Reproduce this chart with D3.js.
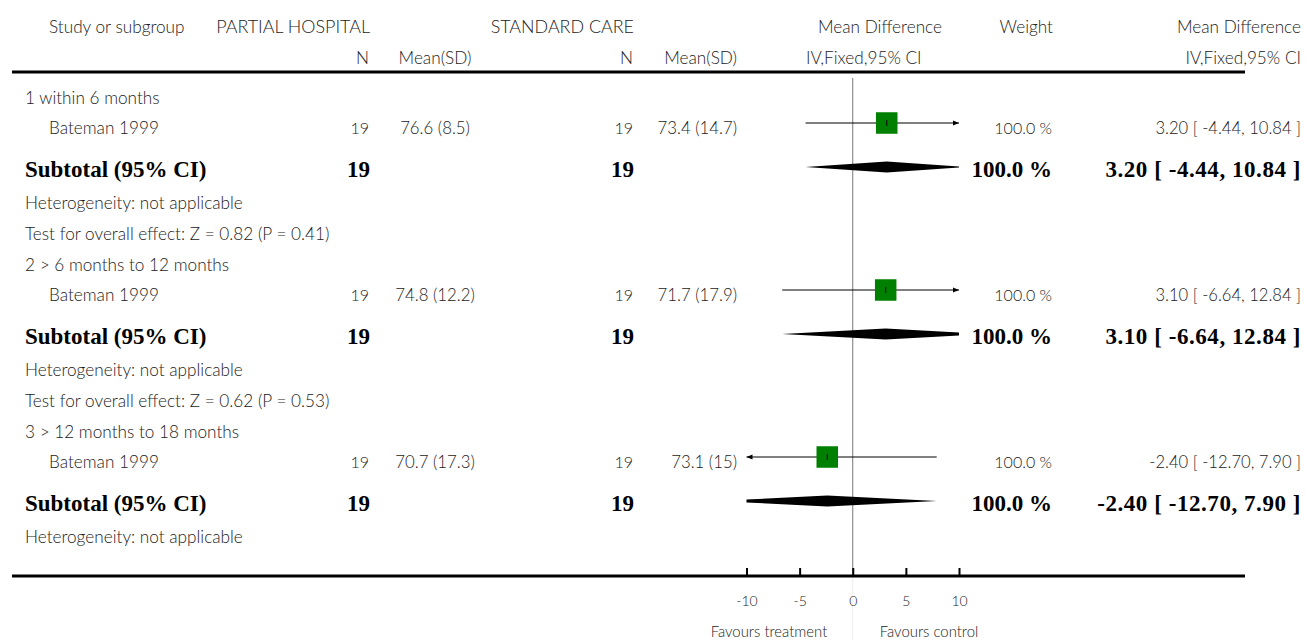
<!DOCTYPE html>
<html>
<head>
<meta charset="utf-8">
<script src="https://cdn.jsdelivr.net/npm/d3@7/dist/d3.min.js"></script>
<style>
  html, body { margin: 0; padding: 0; background: #fff; }
  svg { display: block; }
  .reg { font-family: "Lato", "Open Sans", sans-serif; font-weight: 300; font-size: 17.2px; fill: #222; }
  .bold { font-family: "Liberation Serif", "DejaVu Serif", serif; font-weight: bold; font-size: 23px; fill: #000; }
</style>
</head>
<body>
<svg id="chart" width="1306" height="640"></svg>
<script>
// ---------------- DATA ----------------
const subgroups = ["1 within 6 months", "2 > 6 months to 12 months", "3 > 12 months to 18 months"];
const studyNames = ["Bateman 1999", "Bateman 1999", "Bateman 1999"];
const expN = [19, 19, 19];
const expMeanSD = ["76.6 (8.5)", "74.8 (12.2)", "70.7 (17.3)"];
const ctlN = [19, 19, 19];
const ctlMeanSD = ["73.4 (14.7)", "71.7 (17.9)", "73.1 (15)"];
const md = [3.20, 3.10, -2.40];
const mdLo = [-4.44, -6.64, -12.70];
const mdHi = [10.84, 12.84, 7.90];
const weights = [100.0, 100.0, 100.0];
const subExpN = [19, 19, 19];
const subCtlN = [19, 19, 19];
const heterogeneity = ["Heterogeneity: not applicable", "Heterogeneity: not applicable", "Heterogeneity: not applicable"];
const overallEffect = ["Test for overall effect: Z = 0.82 (P = 0.41)", "Test for overall effect: Z = 0.62 (P = 0.53)", null];
const axisTicks = [-10, -5, 0, 5, 10];
const axisDomain = [-10, 10];
const favoursLeft = "Favours treatment";
const favoursRight = "Favours control";
const headers1 = { study: "Study or subgroup", exp: "PARTIAL HOSPITAL", ctl: "STANDARD CARE", md: "Mean Difference", w: "Weight", md2: "Mean Difference" };
const headers2 = { n: "N", msd: "Mean(SD)", ci: "IV,Fixed,95% CI" };

// ---------------- LAYOUT ----------------
const svg = d3.select("#chart");
const x = d3.scaleLinear().domain(axisDomain).range([746.5, 959]);
const fmt2 = d3.format(".2f");
const fmtCI = (m, l, h) => `${fmt2(m)} [ ${fmt2(l)}, ${fmt2(h)} ]`.replace(/−/g, "-");
const fmtW = w => `${d3.format(".1f")(w)} %`;

const col = { study: 25, studyIndent: 49, expN: 369, expMSD: 435, ctlN: 633, ctlMSD: 737, w: 1052, ci: 1301 };

const rows = [];
subgroups.forEach((g, i) => {
  rows.push({ type: "label", text: g });
  rows.push({ type: "study", i });
  rows.push({ type: "subtotal", i });
  rows.push({ type: "text", text: heterogeneity[i] });
  if (overallEffect[i]) rows.push({ type: "text", text: overallEffect[i] });
});
const gapBefore = { label: 31, study: 30.5, subtotal: 41, text: 31 };
let yCur = 97.5;
rows.forEach((r, k) => {
  if (k > 0) {
    let g = gapBefore[r.type];
    if (rows[k - 1].type === "subtotal") g = 33.5;
    yCur += g;
  }
  r.y = yCur;
});

const lineLeft = 12, lineRight = 1245;
const headY1 = 26.5, headY2 = 57.5, headLineY = 72, axisY = 576;

const hg = svg.append("g");
function txt(g, xx, yy, s, anchor, cls, size, ls) {
  const t = g.append("text").attr("class", cls || "reg").attr("x", xx).attr("y", yy)
    .attr("dy", "0.35em").attr("text-anchor", anchor || "start").text(s);
  if (size) t.style("font-size", size + "px");
  if (ls) t.style("letter-spacing", ls + "px");
  return t;
}
txt(hg, col.studyIndent, headY1, headers1.study);
txt(hg, 370, headY1, headers1.exp, "end", "reg", 17.9);
txt(hg, 634, headY1, headers1.ctl, "end", "reg", 17.9);
txt(hg, 942, headY1, headers1.md, "end");
txt(hg, 1053, headY1, headers1.w, "end");
txt(hg, col.ci, headY1, headers1.md2, "end");
txt(hg, col.expN, headY2, headers2.n, "end");
txt(hg, 435, headY2, headers2.msd, "middle");
txt(hg, col.ctlN, headY2, headers2.n, "end");
txt(hg, col.ctlMSD, headY2, headers2.msd, "end");
txt(hg, 806, headY2, headers2.ci, "start");
txt(hg, col.ci, headY2, headers2.ci, "end");

svg.append("line").attr("x1", lineLeft).attr("x2", lineRight).attr("y1", headLineY).attr("y2", headLineY)
  .attr("stroke", "#000").attr("stroke-width", 3);

svg.append("line").attr("x1", x(0)).attr("x2", x(0)).attr("y1", headLineY + 6).attr("y2", axisY)
  .attr("stroke", "#777").attr("stroke-width", 1);
svg.append("line").attr("x1", x(0)).attr("x2", x(0)).attr("y1", axisY).attr("y2", 640)
  .attr("stroke", "#eee").attr("stroke-width", 1);

svg.append("defs").append("clipPath").attr("id", "plotclip")
  .append("rect").attr("x", x(axisDomain[0])).attr("y", 0)
  .attr("width", x(axisDomain[1]) - x(axisDomain[0])).attr("height", 640);

const body = svg.append("g");
const plot = svg.append("g");

function arrowHead(g, xx, yy, dir) {
  g.append("path")
    .attr("d", `M${xx},${yy} L${xx - dir * 6},${yy - 2.5} L${xx - dir * 6},${yy + 2.5} Z`)
    .attr("fill", "#000");
}

rows.forEach(r => {
  if (r.type === "label" || r.type === "text") {
    txt(body, col.study, r.y, r.text);
  } else if (r.type === "study") {
    const i = r.i;
    txt(body, col.studyIndent, r.y, studyNames[i]);
    txt(body, col.expN, r.y, expN[i], "end", "reg", 16);
    txt(body, col.expMSD, r.y, expMeanSD[i], "middle", "reg", 16.8);
    txt(body, col.ctlN, r.y, ctlN[i], "end", "reg", 16);
    txt(body, col.ctlMSD, r.y, ctlMeanSD[i], "end", "reg", 16.8);
    txt(body, col.w, r.y, fmtW(weights[i]), "end", "reg", 16);
    txt(body, col.ci, r.y, fmtCI(md[i], mdLo[i], mdHi[i]), "end", "reg", 16.6);
    const lo = Math.max(mdLo[i], axisDomain[0]), hi = Math.min(mdHi[i], axisDomain[1]);
    const ly = r.y - 5;
    plot.append("line").attr("x1", x(lo)).attr("x2", x(hi)).attr("y1", ly).attr("y2", ly)
      .attr("stroke", "#000").attr("stroke-width", 1);
    if (mdLo[i] < axisDomain[0]) arrowHead(plot, x(lo), ly, -1);
    if (mdHi[i] > axisDomain[1]) arrowHead(plot, x(hi), ly, 1);
    const s = 21.5 * Math.sqrt(weights[i] / 100);
    plot.append("rect").attr("x", x(md[i]) - s / 2).attr("y", ly - s / 2).attr("width", s).attr("height", s)
      .attr("fill", "#008000");
    plot.append("line").attr("x1", x(md[i])).attr("x2", x(md[i])).attr("y1", ly - 3).attr("y2", ly + 3)
      .attr("stroke", "#000").attr("stroke-width", 1);
  } else if (r.type === "subtotal") {
    const i = r.i;
    txt(body, col.study, r.y, "Subtotal (95% CI)", "start", "bold");
    txt(body, 370, r.y, subExpN[i], "end", "bold");
    txt(body, 634, r.y, subCtlN[i], "end", "bold");
    txt(body, col.w, r.y, fmtW(weights[i]), "end", "bold");
    txt(body, col.ci, r.y, fmtCI(md[i], mdLo[i], mdHi[i]), "end", "bold", null, 0.55);
    const dy = r.y - 2;
    plot.append("path")
      .attr("clip-path", "url(#plotclip)")
      .attr("d", `M${x(mdLo[i])},${dy} L${x(md[i])},${dy - 5.5} L${x(mdHi[i])},${dy} L${x(md[i])},${dy + 5.5} Z`)
      .attr("fill", "#000");
  }
});

svg.append("line").attr("x1", lineLeft).attr("x2", lineRight).attr("y1", axisY).attr("y2", axisY)
  .attr("stroke", "#000").attr("stroke-width", 3);
const axis = d3.axisBottom(x).tickValues(axisTicks).tickSizeInner(-8).tickSizeOuter(0)
  .tickPadding(20).tickFormat(d => String(d));
const ag = svg.append("g").attr("transform", `translate(0,${axisY})`).call(axis);
ag.select(".domain").remove();
ag.selectAll(".tick line").attr("stroke", "#000").attr("stroke-width", 2);
ag.selectAll(".tick text").attr("class", "reg").style("font-size", "14px").attr("fill", "#222");

txt(svg, 769, 632, favoursLeft, "middle", "reg", 14.9);
txt(svg, 929, 632, favoursRight, "middle", "reg", 14.9);
</script>
</body>
</html>
